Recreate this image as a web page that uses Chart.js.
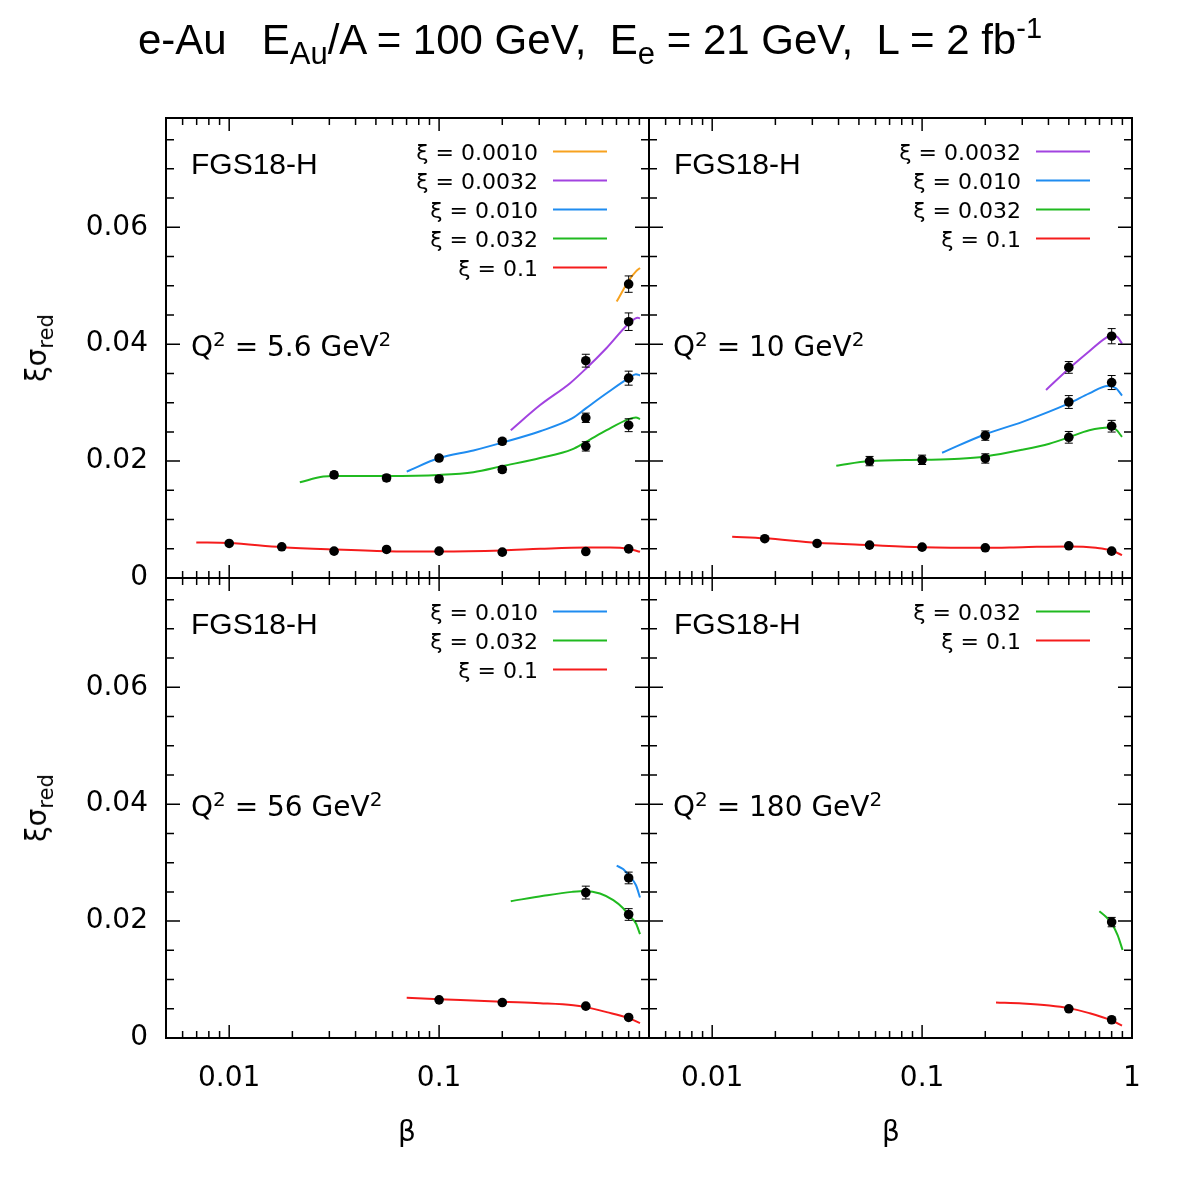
<!DOCTYPE html>
<html>
<head>
<meta charset="utf-8">
<script src="https://cdn.jsdelivr.net/npm/chart.js@4.4.1/dist/chart.umd.min.js"></script>
<style>
  body { margin: 0; background: #fff; }
  #wrap { position: relative; width: 1180px; height: 1180px; overflow: hidden; background: #fff; color: #000; }
  canvas { position: absolute; left: 0; top: 0; }
  .t { position: absolute; white-space: pre; line-height: 1; }
  .dj { font-family: "DejaVu Sans", sans-serif; }
  .ar { font-family: "Liberation Sans", Arial, sans-serif; }
</style>
</head>
<body>
<div id="wrap">
  <canvas id="c1" width="1180" height="1180"></canvas>
  <canvas id="c2" width="1180" height="1180"></canvas>
  <canvas id="c3" width="1180" height="1180"></canvas>
  <canvas id="c4" width="1180" height="1180"></canvas>

  <div class="t ar" style="left:0;width:1180px;text-align:center;top:19px;font-size:42px;">e-Au   E<span style="font-size:31px;position:relative;top:10px;">Au</span>/A = 100 GeV,  E<span style="font-size:31px;position:relative;top:10px;">e</span> = 21 GeV,  L = 2 fb<span style="font-size:29px;position:relative;top:-16px;">-1</span></div>

  <div class="t ar" style="left:191px;top:149px;font-size:30px;">FGS18-H</div>
  <div class="t ar" style="left:674px;top:149px;font-size:30px;">FGS18-H</div>
  <div class="t ar" style="left:191px;top:609px;font-size:30px;">FGS18-H</div>
  <div class="t ar" style="left:674px;top:609px;font-size:30px;">FGS18-H</div>

  <div class="t dj" style="left:191px;top:333px;font-size:28px;">Q<span style="font-size:20px;position:relative;top:-10px;">2</span> = 5.6 GeV<span style="font-size:20px;position:relative;top:-10px;">2</span></div>
  <div class="t dj" style="left:673px;top:333px;font-size:28px;">Q<span style="font-size:20px;position:relative;top:-10px;">2</span> = 10 GeV<span style="font-size:20px;position:relative;top:-10px;">2</span></div>
  <div class="t dj" style="left:191px;top:793px;font-size:28px;">Q<span style="font-size:20px;position:relative;top:-10px;">2</span> = 56 GeV<span style="font-size:20px;position:relative;top:-10px;">2</span></div>
  <div class="t dj" style="left:673px;top:793px;font-size:28px;">Q<span style="font-size:20px;position:relative;top:-10px;">2</span> = 180 GeV<span style="font-size:20px;position:relative;top:-10px;">2</span></div>

  <div class="t dj" style="left:37px;top:348px;font-size:28px;transform:translate(-50%,-50%) rotate(-90deg);">ξσ<span style="font-size:21px;position:relative;top:7px;">red</span></div>
  <div class="t dj" style="left:37px;top:808px;font-size:28px;transform:translate(-50%,-50%) rotate(-90deg);">ξσ<span style="font-size:21px;position:relative;top:7px;">red</span></div>

  <div class="t dj" style="left:407px;top:1118px;font-size:28px;transform:translateX(-50%);">β</div>
  <div class="t dj" style="left:891px;top:1118px;font-size:28px;transform:translateX(-50%);">β</div>
</div>

<script>
// axis ticks
const xTicksLeft = [0.01, 0.1];
const xTicksRight = [0.01, 0.1, 1];
const xTickText = { 0.01: '0.01', 0.1: '0.1', 1: '1' };
const yTicks = [0, 0.02, 0.04, 0.06];
const yTickText = ['0', '0.02', '0.04', '0.06'];
const xMin = 0.005, xMax = 1, yMin = 0, yMax = 0.0787;

// ---------- Q2 = 5.6 GeV2 ----------
// data points
const p1RedB = [0.01, 0.0178, 0.0316, 0.0562, 0.1, 0.2, 0.5, 0.8];
const p1RedV = [0.00591, 0.00534, 0.00459, 0.00488, 0.00459, 0.00442, 0.00453, 0.00499];
const p1RedE = [0.0002, 0.0002, 0.0002, 0.0002, 0.0002, 0.0002, 0.0002, 0.0002];
const p1GrnB = [0.0316, 0.0562, 0.1, 0.2, 0.5, 0.8];
const p1GrnV = [0.01764, 0.01712, 0.01695, 0.01856, 0.02252, 0.02614];
const p1GrnE = [0.0005, 0.0005, 0.0005, 0.0005, 0.0008, 0.0011];
const p1BluB = [0.1, 0.2, 0.5, 0.8];
const p1BluV = [0.02052, 0.02339, 0.02741, 0.03419];
const p1BluE = [0.0004, 0.0005, 0.0008, 0.0012];
const p1PurB = [0.5, 0.8];
const p1PurV = [0.03718, 0.04385];
const p1PurE = [0.0011, 0.0015];
const p1OraB = [0.8];
const p1OraV = [0.05028];
const p1OraE = [0.0014];
// curves
const p1cRedB = [0.00697, 0.01, 0.0178, 0.0316, 0.0562, 0.1, 0.2, 0.303, 0.5, 0.652, 0.8, 0.906];
const p1cRedV = [0.00609, 0.00597, 0.00528, 0.00488, 0.00459, 0.00453, 0.00471, 0.00499, 0.00522, 0.00522, 0.00499, 0.00448];
const p1cGrnB = [0.0217, 0.0281, 0.0316, 0.0562, 0.1, 0.1457, 0.2, 0.303, 0.43, 0.5, 0.628, 0.8, 0.867, 0.906];
const p1cGrnV = [0.01638, 0.01735, 0.01747, 0.01747, 0.01764, 0.0181, 0.01914, 0.02052, 0.0220, 0.02327, 0.02528, 0.02718, 0.02747, 0.02718];
const p1cBluB = [0.0701, 0.1, 0.1457, 0.2, 0.303, 0.43, 0.5, 0.628, 0.8, 0.867, 0.906];
const p1cBluV = [0.01821, 0.02052, 0.02183, 0.02316, 0.02511, 0.02729, 0.02902, 0.0316, 0.03419, 0.03488, 0.03465];
const p1cPurB = [0.2195, 0.303, 0.4207, 0.5, 0.628, 0.8, 0.884, 0.906];
const p1cPurV = [0.02528, 0.02959, 0.03333, 0.0358, 0.03936, 0.0435, 0.04454, 0.04442];
const p1cOraB = [0.7015, 0.8, 0.867, 0.906];
const p1cOraV = [0.0473, 0.05086, 0.05247, 0.05304];

// ---------- Q2 = 10 GeV2 ----------
const p2RedB = [0.0178, 0.0316, 0.0562, 0.1, 0.2, 0.5, 0.8];
const p2RedV = [0.00672, 0.00591, 0.00563, 0.00528, 0.00517, 0.00551, 0.00459];
const p2RedE = [0.0002, 0.0002, 0.0002, 0.0002, 0.0002, 0.0002, 0.0002];
const p2GrnB = [0.0562, 0.1, 0.2, 0.5, 0.8];
const p2GrnV = [0.0200, 0.02022, 0.02045, 0.02407, 0.02597];
const p2GrnE = [0.0008, 0.0008, 0.0008, 0.0010, 0.0010];
const p2BluB = [0.2, 0.5, 0.8];
const p2BluV = [0.02436, 0.03011, 0.03344];
const p2BluE = [0.0008, 0.0011, 0.0012];
const p2PurB = [0.5, 0.8];
const p2PurV = [0.03603, 0.04137];
const p2PurE = [0.0010, 0.0013];
const p2cRedB = [0.01245, 0.0178, 0.0316, 0.0562, 0.1, 0.2, 0.301, 0.5, 0.674, 0.8, 0.896];
const p2cRedV = [0.00706, 0.00678, 0.00603, 0.00563, 0.00528, 0.00517, 0.00528, 0.0054, 0.00517, 0.00471, 0.0039];
const p2cGrnB = [0.039, 0.0562, 0.1, 0.1506, 0.2, 0.301, 0.404, 0.5, 0.626, 0.78, 0.839, 0.896];
const p2cGrnV = [0.01919, 0.0200, 0.02022, 0.0204, 0.0208, 0.02195, 0.02298, 0.02407, 0.02528, 0.02574, 0.0254, 0.02413];
const p2cBluB = [0.1245, 0.2, 0.301, 0.5, 0.626, 0.766, 0.839, 0.896];
const p2cBluV = [0.02143, 0.02459, 0.02672, 0.02988, 0.0316, 0.03287, 0.03247, 0.0312];
const p2cPurB = [0.3895, 0.5, 0.626, 0.751, 0.808, 0.854, 0.896];
const p2cPurV = [0.03218, 0.0358, 0.03879, 0.04109, 0.04155, 0.0412, 0.04011];

// ---------- Q2 = 56 GeV2 ----------
const p3RedB = [0.1, 0.2, 0.5, 0.8];
const p3RedV = [0.00653, 0.00607, 0.00545, 0.00352];
const p3RedE = [0.0002, 0.0002, 0.0002, 0.0002];
const p3GrnB = [0.5, 0.8];
const p3GrnV = [0.02488, 0.02113];
const p3GrnE = [0.0011, 0.0010];
const p3BluB = [0.8];
const p3BluV = [0.02738];
const p3BluE = [0.0010];
const p3cRedB = [0.0701, 0.1, 0.2, 0.303, 0.436, 0.5, 0.628, 0.8, 0.906];
const p3cRedV = [0.00687, 0.00664, 0.00619, 0.00596, 0.00562, 0.00528, 0.00443, 0.0034, 0.00255];
const p3cGrnB = [0.2195, 0.314, 0.43, 0.5, 0.584, 0.676, 0.755, 0.8, 0.867, 0.906];
const p3cGrnV = [0.02341, 0.02432, 0.025, 0.02517, 0.02471, 0.02358, 0.02216, 0.02102, 0.0196, 0.01778];
const p3cBluB = [0.7015, 0.755, 0.8, 0.867, 0.906];
const p3cBluV = [0.02949, 0.02886, 0.02784, 0.02613, 0.02403];

// ---------- Q2 = 180 GeV2 ----------
const p4RedB = [0.5, 0.8];
const p4RedV = [0.0050, 0.00312];
const p4RedE = [0.0002, 0.0002];
const p4GrnB = [0.8];
const p4GrnV = [0.01983];
const p4GrnE = [0.0008];
const p4cRedB = [0.225, 0.301, 0.404, 0.5, 0.626, 0.8, 0.896];
const p4cRedV = [0.00607, 0.0059, 0.00556, 0.00511, 0.00426, 0.0030, 0.0021];
const p4cGrnB = [0.699, 0.751, 0.8, 0.854, 0.902];
const p4cGrnV = [0.0217, 0.02074, 0.0196, 0.01761, 0.01505];

const COL = { ora: '#f7a21f', pur: '#a243e0', blu: '#1f8cf0', grn: '#20ba20', red: '#f51c1c' };

function toXY(b, v) { return b.map((x, i) => ({ x: x, y: v[i] })); }

function curve(label, color, b, v) {
  return { type: 'line', label: label, legend: true, data: toXY(b, v), borderColor: color, borderWidth: 2,
    pointRadius: 0, fill: false, cubicInterpolationMode: 'monotone', order: 2 };
}
function points(b, v, e) {
  return { type: 'scatter', data: toXY(b, v), errors: e, pointRadius: 4.8, pointBackgroundColor: '#000',
    pointBorderWidth: 0, order: 0 };
}

// frame, inward ticks, error bars and key
const panelDeco = {
  id: 'panelDeco',
  afterDatasetsDraw(chart) {
    const { ctx, scales: { y } } = chart;
    ctx.save();
    ctx.strokeStyle = '#000';
    ctx.lineWidth = 1;
    chart.data.datasets.forEach((ds, i) => {
      if (!ds.errors) return;
      chart.getDatasetMeta(i).data.forEach((pt, j) => {
        const v = ds.data[j].y, e = ds.errors[j];
        const y1 = y.getPixelForValue(v - e), y2 = y.getPixelForValue(v + e);
        ctx.beginPath();
        ctx.moveTo(pt.x, y1); ctx.lineTo(pt.x, y2);
        ctx.moveTo(pt.x - 4, y1); ctx.lineTo(pt.x + 4, y1);
        ctx.moveTo(pt.x - 4, y2); ctx.lineTo(pt.x + 4, y2);
        ctx.stroke();
      });
    });
    ctx.restore();
  },
  afterDraw(chart) {
    const { ctx, chartArea: a, scales: { x, y } } = chart;
    ctx.save();
    ctx.strokeStyle = '#000';
    ctx.lineWidth = 1.5;
    ctx.beginPath();
    for (let e = -3; e <= 0; e++) {
      for (let k = 1; k <= 9; k++) {
        const v = k * Math.pow(10, e);
        if (v <= xMin * 1.001 || v >= xMax * 0.999) continue;
        const px = x.getPixelForValue(v), len = k === 1 ? 13 : 7;
        ctx.moveTo(px, a.bottom); ctx.lineTo(px, a.bottom - len);
        ctx.moveTo(px, a.top); ctx.lineTo(px, a.top + len);
      }
    }
    for (let i = 1; i * 0.005 < yMax; i++) {
      const py = y.getPixelForValue(i * 0.005), len = i % 4 === 0 ? 14 : 8;
      ctx.moveTo(a.left, py); ctx.lineTo(a.left + len, py);
      ctx.moveTo(a.right, py); ctx.lineTo(a.right - len, py);
    }
    ctx.stroke();
    ctx.lineWidth = 2;
    ctx.strokeRect(a.left, a.top, a.right - a.left, a.bottom - a.top);

    // key
    let row = 0;
    ctx.font = '22px "DejaVu Sans"';
    ctx.textAlign = 'right';
    ctx.textBaseline = 'alphabetic';
    chart.data.datasets.forEach(ds => {
      if (!ds.legend) return;
      const yy = a.top + 33.5 + 29 * row;
      ctx.fillStyle = '#000';
      ctx.fillText(ds.label, a.right - 111, yy + 8);
      ctx.strokeStyle = ds.borderColor;
      ctx.lineWidth = 2;
      ctx.beginPath();
      ctx.moveTo(a.right - 96, yy); ctx.lineTo(a.right - 42, yy);
      ctx.stroke();
      row++;
    });
    ctx.restore();
  }
};

function makePanel(id, rect, showX, showY, xTicks, datasets) {
  new Chart(document.getElementById(id), {
    data: { datasets: datasets },
    plugins: [panelDeco],
    options: {
      responsive: false, animation: false, events: [],
      layout: { padding: { left: showY ? 0 : rect.l, top: rect.t, right: 1180 - rect.r, bottom: showX ? 0 : 1180 - rect.b } },
      plugins: { legend: { display: false }, tooltip: { enabled: false } },
      scales: {
        x: {
          type: 'logarithmic', min: xMin, max: xMax, bounds: 'data',
          grid: { display: false, drawTicks: false }, border: { display: false },
          ticks: { display: showX, autoSkip: false, maxRotation: 0, padding: 24, color: '#000',
            font: { family: 'DejaVu Sans', size: 28 }, callback: v => xTickText[v] },
          afterBuildTicks: s => { s.ticks = xTicks.map(v => ({ value: v })); },
          afterFit: s => { s.height = showX ? 1180 - rect.b : 0; }
        },
        y: {
          type: 'linear', min: yMin, max: yMax, bounds: 'data',
          grid: { display: false, drawTicks: false }, border: { display: false },
          ticks: { display: showY, padding: 18, color: '#000', font: { family: 'DejaVu Sans', size: 28 },
            callback: (v, i) => yTickText[i] },
          afterBuildTicks: s => { s.ticks = yTicks.map(v => ({ value: v })); },
          afterFit: s => { s.width = showY ? rect.l : 0; }
        }
      }
    }
  });
}

makePanel('c1', { l: 166, t: 118, r: 649, b: 578 }, false, true, xTicksLeft, [
  points(p1RedB, p1RedV, p1RedE), points(p1GrnB, p1GrnV, p1GrnE), points(p1BluB, p1BluV, p1BluE),
  points(p1PurB, p1PurV, p1PurE), points(p1OraB, p1OraV, p1OraE),
  curve('ξ = 0.0010', COL.ora, p1cOraB, p1cOraV),
  curve('ξ = 0.0032', COL.pur, p1cPurB, p1cPurV),
  curve('ξ = 0.010', COL.blu, p1cBluB, p1cBluV),
  curve('ξ = 0.032', COL.grn, p1cGrnB, p1cGrnV),
  curve('ξ = 0.1', COL.red, p1cRedB, p1cRedV)
]);

makePanel('c2', { l: 649, t: 118, r: 1132, b: 578 }, false, false, xTicksRight, [
  points(p2RedB, p2RedV, p2RedE), points(p2GrnB, p2GrnV, p2GrnE), points(p2BluB, p2BluV, p2BluE),
  points(p2PurB, p2PurV, p2PurE),
  curve('ξ = 0.0032', COL.pur, p2cPurB, p2cPurV),
  curve('ξ = 0.010', COL.blu, p2cBluB, p2cBluV),
  curve('ξ = 0.032', COL.grn, p2cGrnB, p2cGrnV),
  curve('ξ = 0.1', COL.red, p2cRedB, p2cRedV)
]);

makePanel('c3', { l: 166, t: 578, r: 649, b: 1038 }, true, true, xTicksLeft, [
  points(p3RedB, p3RedV, p3RedE), points(p3GrnB, p3GrnV, p3GrnE), points(p3BluB, p3BluV, p3BluE),
  curve('ξ = 0.010', COL.blu, p3cBluB, p3cBluV),
  curve('ξ = 0.032', COL.grn, p3cGrnB, p3cGrnV),
  curve('ξ = 0.1', COL.red, p3cRedB, p3cRedV)
]);

makePanel('c4', { l: 649, t: 578, r: 1132, b: 1038 }, true, false, xTicksRight, [
  points(p4RedB, p4RedV, p4RedE), points(p4GrnB, p4GrnV, p4GrnE),
  curve('ξ = 0.032', COL.grn, p4cGrnB, p4cGrnV),
  curve('ξ = 0.1', COL.red, p4cRedB, p4cRedV)
]);
</script>
</body>
</html>
